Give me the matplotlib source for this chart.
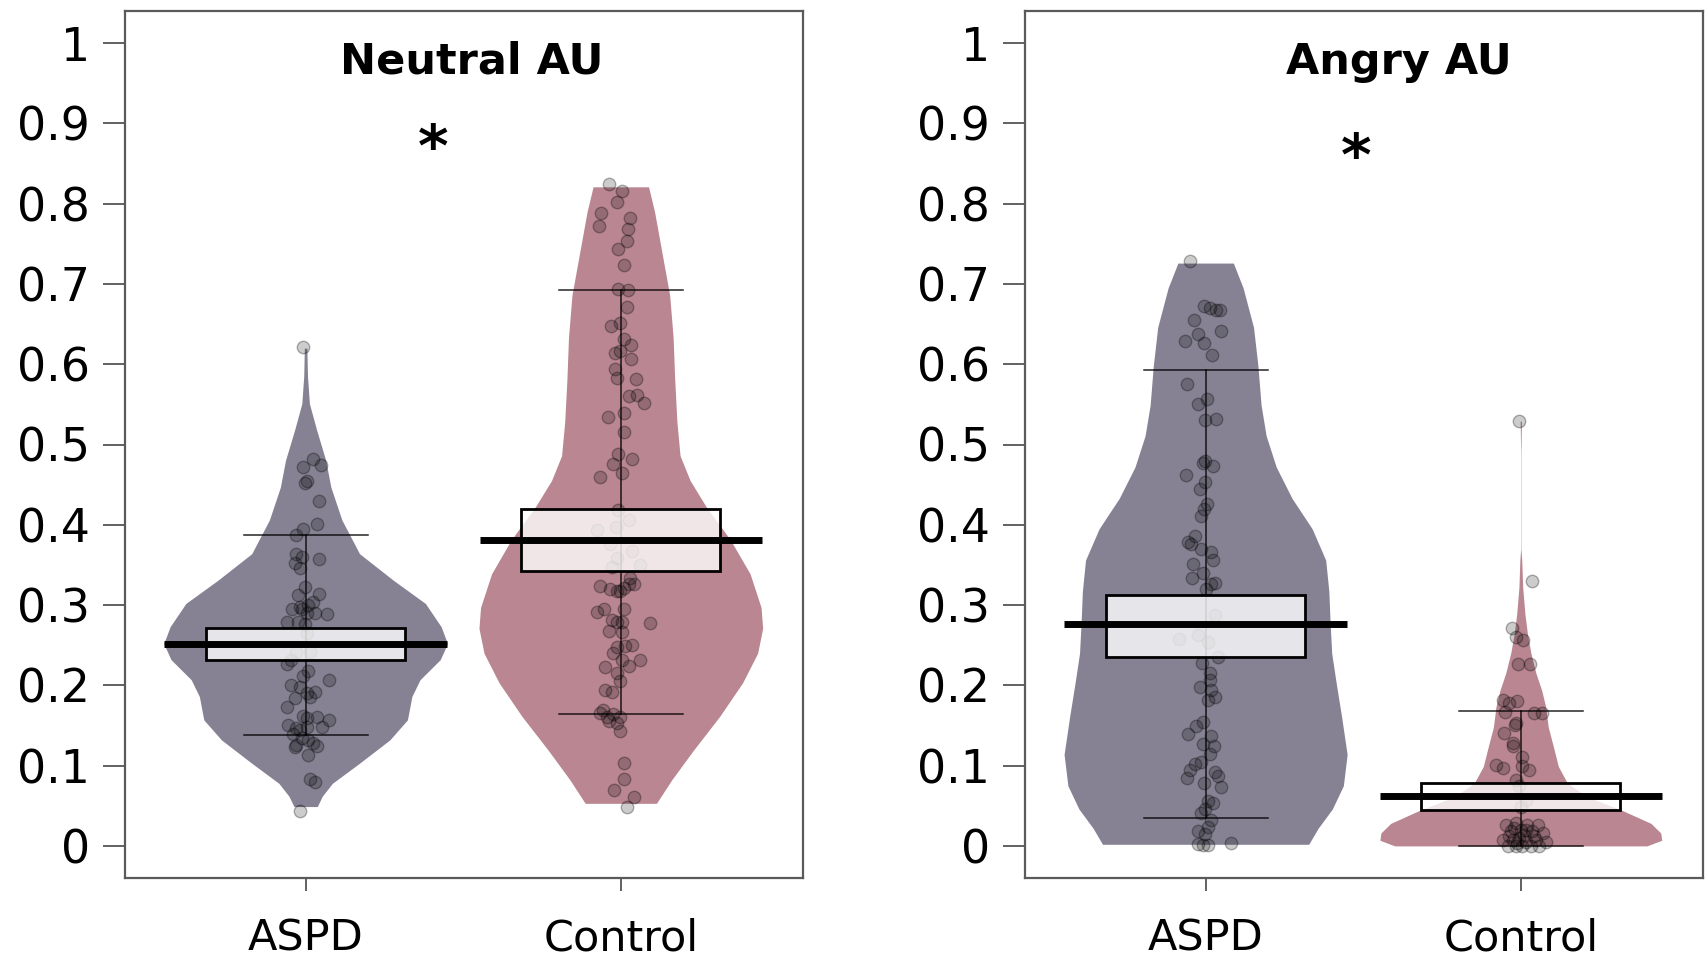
import numpy as np
import matplotlib.pyplot as plt

plt.rcParams['font.family'] = ['DejaVu Sans']

groups = ['ASPD', 'Control']
panel_titles = ['Neutral AU', 'Angry AU']
bean_colors = ['#868294', '#b98691']

# ---- Neutral AU ----------------------------------------------------------
# bean outline: value, half width (x units)
neu_aspd_bean_y = [0.049, 0.062, 0.078, 0.103, 0.132, 0.157, 0.186, 0.207, 0.232, 0.252,
                   0.273, 0.302, 0.331, 0.364, 0.406, 0.447, 0.480, 0.518, 0.551, 0.585, 0.620]
neu_aspd_bean_w = [0.037, 0.053, 0.085, 0.171, 0.267, 0.323, 0.337, 0.363, 0.427, 0.450,
                   0.430, 0.380, 0.278, 0.171, 0.115, 0.080, 0.064, 0.035, 0.012, 0.006, 0.004]
neu_ctrl_bean_y = [0.053, 0.082, 0.119, 0.161, 0.203, 0.240, 0.271, 0.297, 0.339, 0.381,
                   0.423, 0.455, 0.486, 0.528, 0.581, 0.633, 0.686, 0.738, 0.790, 0.821]
neu_ctrl_bean_w = [0.113, 0.161, 0.230, 0.313, 0.386, 0.434, 0.450, 0.445, 0.410, 0.348,
                   0.270, 0.220, 0.188, 0.178, 0.171, 0.166, 0.155, 0.131, 0.107, 0.088]

neu_aspd_y = [0.622, 0.482, 0.472, 0.474, 0.455, 0.452, 0.429, 0.401, 0.395, 0.387,
              0.364, 0.360, 0.357, 0.353, 0.346, 0.323, 0.312, 0.314, 0.304, 0.300,
              0.297, 0.295, 0.295, 0.289, 0.290, 0.290, 0.279, 0.279, 0.276, 0.265,
              0.242, 0.242, 0.227, 0.232, 0.218, 0.212, 0.207, 0.200, 0.198, 0.190,
              0.192, 0.186, 0.184, 0.173, 0.162, 0.159, 0.160, 0.157, 0.151, 0.147,
              0.144, 0.148, 0.148, 0.140, 0.135, 0.132, 0.128, 0.126, 0.123, 0.125,
              0.113, 0.083, 0.079, 0.044]
neu_aspd_jit = [-0.007, 0.025, -0.007, 0.049, 0.003, -0.002, 0.041, 0.037, -0.007, -0.031,
                -0.029, -0.013, 0.041, -0.034, -0.018, -0.002, -0.024, 0.041, 0.025, 0.009,
                -0.018, -0.042, -0.010, 0.067, 0.030, 0.003, -0.058, -0.024, -0.002, 0.003,
                0.014, -0.029, -0.058, -0.045, 0.009, -0.007, 0.073, -0.047, -0.018, 0.003,
                0.030, 0.014, -0.034, -0.059, -0.007, 0.003, 0.035, 0.073, -0.056, -0.029,
                -0.018, 0.003, 0.051, -0.040, -0.013, 0.009, 0.025, -0.029, -0.034, 0.035,
                0.009, 0.014, 0.030, -0.018]

neu_ctrl_y = [0.824, 0.816, 0.802, 0.788, 0.782, 0.772, 0.768, 0.753, 0.744, 0.723,
              0.694, 0.692, 0.671, 0.648, 0.651, 0.631, 0.624, 0.614, 0.617, 0.606,
              0.594, 0.583, 0.581, 0.560, 0.562, 0.552, 0.534, 0.539, 0.515, 0.488,
              0.482, 0.476, 0.464, 0.459, 0.418, 0.406, 0.397, 0.393, 0.376, 0.367,
              0.358, 0.350, 0.347, 0.324, 0.320, 0.318, 0.317, 0.321, 0.326, 0.326,
              0.334, 0.291, 0.295, 0.295, 0.281, 0.279, 0.279, 0.278, 0.268, 0.266,
              0.248, 0.249, 0.250, 0.240, 0.232, 0.224, 0.232, 0.223, 0.215, 0.206,
              0.194, 0.192, 0.169, 0.166, 0.161, 0.164, 0.161, 0.156, 0.153, 0.143,
              0.103, 0.083, 0.069, 0.061, 0.048]
neu_ctrl_jit = [-0.038, 0.003, -0.011, -0.064, 0.030, -0.069, 0.023, 0.019, -0.008, 0.009,
                -0.008, 0.023, 0.019, -0.031, -0.002, 0.009, 0.032, -0.020, -0.002, 0.032,
                -0.018, -0.011, 0.048, 0.025, 0.051, 0.073, -0.040, 0.009, 0.009, -0.008,
                0.035, -0.024, 0.003, -0.066, -0.008, 0.025, -0.015, -0.077, -0.034, 0.035,
                -0.013, 0.062, -0.029, -0.066, -0.034, -0.013, -0.004, 0.009, 0.025, 0.041,
                0.030, -0.077, -0.054, 0.009, -0.029, -0.013, 0.003, 0.092, -0.038, 0.003,
                -0.013, 0.014, 0.035, -0.024, 0.003, 0.025, 0.062, -0.050, -0.013, -0.004,
                -0.050, -0.029, -0.056, -0.066, -0.045, -0.024, -0.002, -0.036, -0.013, -0.004,
                0.011, 0.009, -0.021, 0.041, 0.019]

# ---- Angry AU ------------------------------------------------------------
ang_aspd_bean_y = [0.002, 0.022, 0.046, 0.075, 0.114, 0.162, 0.201, 0.240, 0.278, 0.317,
                   0.356, 0.395, 0.433, 0.472, 0.511, 0.549, 0.598, 0.646, 0.695, 0.726]
ang_aspd_bean_w = [0.327, 0.357, 0.402, 0.437, 0.449, 0.431, 0.415, 0.400, 0.395, 0.391,
                   0.381, 0.338, 0.274, 0.224, 0.192, 0.176, 0.166, 0.152, 0.119, 0.088]
ang_ctrl_bean_y = [0.000, 0.007, 0.016, 0.028, 0.045, 0.061, 0.078, 0.099, 0.124, 0.148,
                   0.173, 0.194, 0.215, 0.240, 0.264, 0.289, 0.322, 0.356, 0.370, 0.490, 0.529]
ang_ctrl_bean_w = [0.400, 0.447, 0.444, 0.413, 0.317, 0.212, 0.148, 0.119, 0.103, 0.087,
                   0.079, 0.066, 0.048, 0.032, 0.021, 0.013, 0.006, 0.003, 0.0005, 0.0005, 0.002]

ang_aspd_y = [0.728, 0.673, 0.670, 0.668, 0.667, 0.655, 0.642, 0.638, 0.629, 0.626,
              0.612, 0.575, 0.557, 0.550, 0.530, 0.532, 0.479, 0.477, 0.473, 0.462,
              0.453, 0.444, 0.426, 0.420, 0.411, 0.379, 0.386, 0.376, 0.370, 0.366,
              0.356, 0.351, 0.340, 0.334, 0.326, 0.327, 0.320, 0.288, 0.263, 0.258,
              0.254, 0.235, 0.228, 0.215, 0.207, 0.198, 0.194, 0.186, 0.182, 0.154,
              0.149, 0.139, 0.137, 0.127, 0.124, 0.114, 0.105, 0.102, 0.094, 0.092,
              0.087, 0.085, 0.078, 0.073, 0.056, 0.053, 0.046, 0.041, 0.032, 0.023,
              0.018, 0.015, 0.002, 0.001, 0.001, 0.003]
ang_aspd_jit = [-0.051, -0.005, 0.013, 0.034, 0.045, -0.037, 0.050, -0.024, -0.065, -0.005,
                0.021, -0.059, 0.005, -0.024, -0.003, 0.034, -0.003, -0.009, 0.023, -0.062,
                -0.003, -0.019, 0.005, -0.005, -0.014, -0.056, -0.035, -0.046, -0.014, 0.018,
                0.023, -0.040, -0.009, -0.044, 0.018, 0.031, 0.002, 0.029, -0.024, -0.083,
                0.007, 0.039, -0.012, 0.013, 0.013, -0.019, 0.018, 0.029, 0.007, -0.009,
                -0.030, -0.056, 0.016, -0.009, 0.027, 0.013, -0.016, -0.035, -0.051, 0.029,
                0.039, -0.059, -0.005, 0.050, 0.007, 0.023, -0.003, -0.014, 0.018, 0.007,
                -0.024, -0.003, -0.024, -0.009, 0.007, 0.082]

ang_ctrl_y = [0.529, 0.330, 0.271, 0.260, 0.257, 0.227, 0.227, 0.182, 0.178, 0.180,
              0.167, 0.165, 0.165, 0.153, 0.150, 0.141, 0.128, 0.124, 0.111, 0.101,
              0.097, 0.099, 0.095, 0.082, 0.074, 0.057, 0.049, 0.026, 0.028, 0.026,
              0.026, 0.018, 0.020, 0.018, 0.016, 0.007, 0.007, 0.010, 0.005, 0.007,
              0.005, 0.000, 0.000, 0.000, 0.000, 0.000, 0.003, 0.014, 0.012, 0.012,
              0.022, 0.020]
ang_ctrl_jit = [-0.005, 0.037, -0.029, -0.016, 0.007, -0.008, 0.029, -0.058, -0.039, -0.011,
                -0.050, 0.042, 0.067, -0.016, -0.018, -0.053, -0.024, -0.024, 0.005, -0.079,
                -0.058, 0.005, 0.026, -0.016, -0.005, 0.016, 0.000, -0.048, -0.016, 0.021,
                0.053, -0.032, 0.000, 0.037, 0.069, -0.058, -0.026, -0.005, 0.016, 0.048,
                0.079, -0.042, -0.016, 0.005, 0.032, 0.058, -0.011, 0.011, -0.037, 0.042,
                -0.021, 0.016]

# summary: mean, inference band (lo, hi), bar ends (lo, hi)
neu_means = [0.252, 0.381]
neu_band = [(0.232, 0.272), (0.343, 0.420)]
neu_bars = [(0.1377, 0.387), (0.1638, 0.6924)]
ang_means = [0.276, 0.0625]
ang_band = [(0.235, 0.312), (0.0444, 0.078)]
ang_bars = [(0.0353, 0.593), (0.0, 0.168)]

stars = [(1.403, 0.868), (1.476, 0.856)]


def draw_group(ax, pos, bean_y, bean_w, pts_y, pts_jit, mean, band, bars, color):
    by = np.array(bean_y)
    bw = np.array(bean_w)
    ax.fill_betweenx(by, pos - bw, pos + bw, color=color, lw=0, zorder=1)
    ax.scatter(pos + np.array(pts_jit), pts_y, s=80, facecolor=(0, 0, 0, 0.2),
               edgecolor=(0, 0, 0, 0.3), linewidth=1, zorder=2)
    ax.plot([pos, pos], bars, color='black', lw=1.1, alpha=0.85, zorder=3)
    for b in bars:
        ax.plot([pos - 0.197, pos + 0.197], [b, b], color='black', lw=1.1, alpha=0.85, zorder=3)
    ax.add_patch(plt.Rectangle((pos - 0.316, band[0]), 0.632, band[1] - band[0],
                               facecolor=(1, 1, 1, 0.8), edgecolor='black', lw=2, zorder=4))
    ax.plot([pos - 0.448, pos + 0.448], [mean, mean], color='black', lw=5,
            solid_capstyle='butt', zorder=5)


fig = plt.figure(figsize=(17.08, 9.59), dpi=100)
ax1 = fig.add_axes([125 / 1708, 81 / 959, 678 / 1708, 867 / 959])
ax2 = fig.add_axes([1025 / 1708, 81 / 959, 678 / 1708, 867 / 959])

draw_group(ax1, 1, neu_aspd_bean_y, neu_aspd_bean_w, neu_aspd_y, neu_aspd_jit,
           neu_means[0], neu_band[0], neu_bars[0], bean_colors[0])
draw_group(ax1, 2, neu_ctrl_bean_y, neu_ctrl_bean_w, neu_ctrl_y, neu_ctrl_jit,
           neu_means[1], neu_band[1], neu_bars[1], bean_colors[1])
draw_group(ax2, 1, ang_aspd_bean_y, ang_aspd_bean_w, ang_aspd_y, ang_aspd_jit,
           ang_means[0], ang_band[0], ang_bars[0], bean_colors[0])
draw_group(ax2, 2, ang_ctrl_bean_y, ang_ctrl_bean_w, ang_ctrl_y, ang_ctrl_jit,
           ang_means[1], ang_band[1], ang_bars[1], bean_colors[1])

title_x = [1.527, 1.613]
yticks = [0, 0.1, 0.2, 0.3, 0.4, 0.5, 0.6, 0.7, 0.8, 0.9, 1]
for i, ax in enumerate([ax1, ax2]):
    ax.set_xlim(0.427, 2.578)
    ax.set_ylim(-0.04, 1.04)
    ax.set_yticks(yticks)
    ax.set_yticklabels(['0', '0.1', '0.2', '0.3', '0.4', '0.5', '0.6', '0.7', '0.8', '0.9', '1'])
    ax.set_xticks([1, 2])
    ax.set_xticklabels(groups)
    ax.tick_params(axis='y', length=16, width=1.3, pad=9, labelsize=33, colors='#555555',
                   labelcolor='black')
    ax.tick_params(axis='x', length=9.5, width=1.3, pad=19, labelsize=31, colors='#555555',
                   labelcolor='black')
    for sp in ax.spines.values():
        sp.set_color('#5a5a5a')
        sp.set_linewidth(1.6)
    ax.text(title_x[i], 0.962, panel_titles[i], ha='center', va='baseline',
            fontsize=31, fontweight='bold')
    ax.text(stars[i][0], stars[i][1], '*', ha='center', va='center',
            fontsize=42, fontweight='bold')

fig.savefig('out.png', dpi=100)
